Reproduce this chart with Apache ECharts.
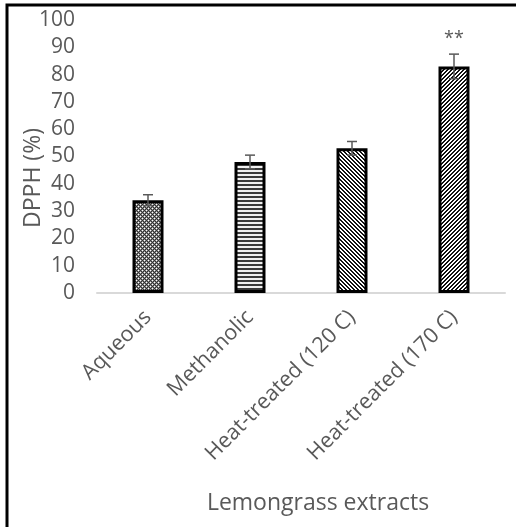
<!DOCTYPE html>
<html>
<head>
<meta charset="utf-8">
<script src="https://cdn.jsdelivr.net/npm/echarts@6/dist/echarts.min.js"></script>
<style>
html,body{margin:0;padding:0;background:#fff;}
#chart{width:516px;height:527px;}
</style>
</head>
<body>
<div id="chart"></div>
<script>
const categories = ['Aqueous', 'Methanolic', 'Heat-treated (120 C)', 'Heat-treated (170 C)'];
const values = [34, 48, 53, 83];
const errors = [2, 2.5, 2.5, 4.5];
const significance = ['', '', '', '**'];
const yTicks = [0, 10, 20, 30, 40, 50, 60, 70, 80, 90, 100];

function makeTile(size, fn) {
  const c = document.createElement('canvas');
  c.width = size; c.height = size;
  const ctx = c.getContext('2d');
  for (let y = 0; y < size; y++) {
    for (let x = 0; x < size; x++) {
      ctx.fillStyle = fn(x, y);
      ctx.fillRect(x, y, 1, 1);
    }
  }
  return c;
}
const patterns = [
  makeTile(4, (x, y) => ((x + y) % 2 === 0) ? ((x % 4 === 0 && y % 4 === 0) || (x % 4 === 2 && y % 4 === 2) ? '#ffffff' : '#333333') : '#888888'),
  makeTile(4, (x, y) => (y % 4 < 2) ? '#3a3a3a' : '#f0f0f0'),
  makeTile(4, (x, y) => (((x - y) % 4 + 4) % 4 < 2) ? '#111111' : '#ffffff'),
  makeTile(4, (x, y) => ((x + y) % 4 < 2) ? '#111111' : '#ffffff')
];

const FONT = 'Open Sans';
const TXT = '#595959';

const chart = echarts.init(document.getElementById('chart'), null, {renderer: 'canvas'});
chart.setOption({
  animation: false,
  grid: {left: 97, right: 11, top: 20, bottom: 234, containLabel: false},
  xAxis: {
    type: 'category',
    data: categories,
    axisLine: {lineStyle: {color: '#d9d9d9', width: 2}},
    axisTick: {show: false},
    axisLabel: {rotate: 45, color: TXT, fontFamily: FONT, fontSize: 21.5, margin: 21, interval: 0}
  },
  yAxis: {
    type: 'value',
    min: yTicks[0],
    max: yTicks[yTicks.length - 1],
    interval: 10,
    axisLine: {show: false},
    axisTick: {show: false},
    splitLine: {show: false},
    axisLabel: {color: TXT, fontFamily: FONT, fontSize: 21, margin: 22}
  },
  graphic: [
    {type: 'rect', shape: {x: 7, y: 5, width: 620, height: 620}, style: {fill: 'none', stroke: '#000', lineWidth: 3}, silent: true},
    {type: 'text', x: 33, y: 178, rotation: Math.PI / 2, style: {text: 'DPPH (%)', fill: TXT, font: '23px "' + FONT + '"', align: 'center', verticalAlign: 'middle'}},
    {type: 'text', x: 318, y: 503, style: {text: 'Lemongrass extracts', fill: TXT, font: '23px "' + FONT + '"', align: 'center', verticalAlign: 'middle'}}
  ],
  series: [
    {
      type: 'bar',
      barWidth: 31,
      data: values.map((v, i) => ({
        value: v,
        itemStyle: {color: {image: patterns[i], repeat: 'repeat'}, borderColor: '#000', borderWidth: 3}
      }))
    },
    {
      type: 'custom',
      data: values.map((v, i) => [i, v, errors[i], significance[i]]),
      renderItem: function (params, api) {
        const i = api.value(0), v = api.value(1), e = api.value(2);
        const top = api.coord([i, v + e]);
        const bot = api.coord([i, v - e]);
        const hw = 5;
        const st = {stroke: '#595959', lineWidth: 1.5};
        const children = [
          {type: 'line', shape: {x1: top[0], y1: top[1], x2: bot[0], y2: bot[1]}, style: st},
          {type: 'line', shape: {x1: top[0] - hw, y1: top[1], x2: top[0] + hw, y2: top[1]}, style: st},
          {type: 'line', shape: {x1: bot[0] - hw, y1: bot[1], x2: bot[0] + hw, y2: bot[1]}, style: st}
        ];
        const sig = significance[params.dataIndex];
        if (sig) {
          children.push({type: 'text', x: top[0], y: top[1] - 15, style: {text: sig, fill: TXT, font: '18px "' + FONT + '"', align: 'center', verticalAlign: 'middle'}});
        }
        return {type: 'group', children: children};
      },
      z: 5
    }
  ]
});
</script>
</body>
</html>
